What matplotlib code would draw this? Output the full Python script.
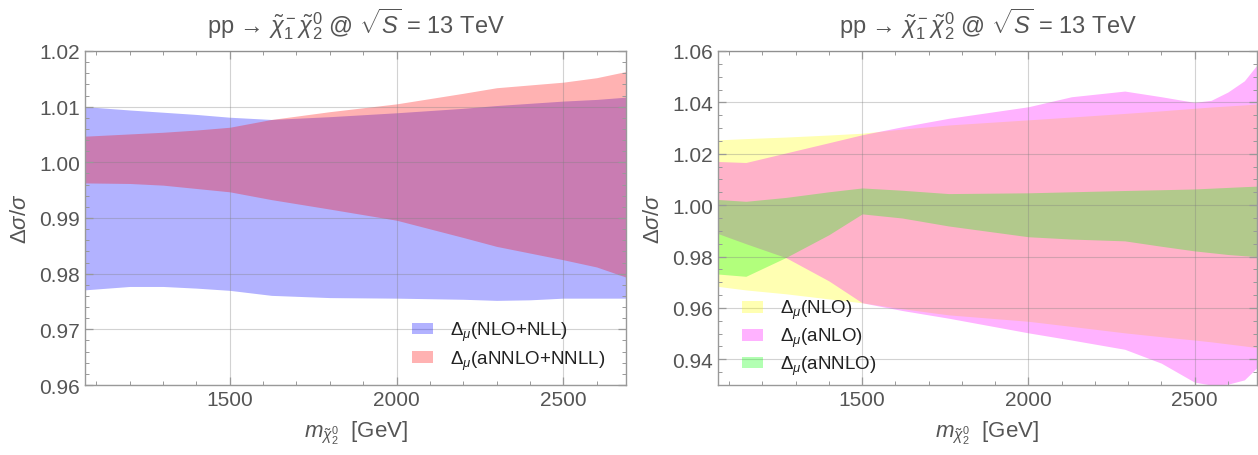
import numpy as np
import matplotlib
matplotlib.use("Agg")
import matplotlib.pyplot as plt
from matplotlib.ticker import MultipleLocator

plt.rcParams['font.family'] = ['Liberation Sans', 'DejaVu Sans']
plt.rcParams['mathtext.fontset'] = 'custom'
plt.rcParams['mathtext.rm'] = 'Liberation Sans'
plt.rcParams['mathtext.it'] = 'Liberation Sans:italic'
plt.rcParams['mathtext.bf'] = 'Liberation Sans:bold'

# left panel: resummed bands
m_left = [1067, 1200, 1300, 1400, 1500, 1625, 1800, 2000, 2200, 2300, 2400, 2500, 2600, 2687]
nll_hi = [1.0100, 1.0094, 1.0090, 1.0086, 1.0081, 1.0077, 1.0082, 1.0089, 1.0097, 1.0102, 1.0106, 1.0110, 1.0113, 1.0117]
nll_lo = [0.9771, 0.9777, 0.9777, 0.9774, 0.9770, 0.9761, 0.9757, 0.9756, 0.9754, 0.9752, 0.9753, 0.9756, 0.9756, 0.9756]
nnll_hi = [1.0047, 1.0051, 1.0054, 1.0058, 1.0063, 1.0077, 1.0091, 1.0105, 1.0124, 1.0134, 1.0139, 1.0144, 1.0152, 1.0163]
nnll_lo = [0.9963, 0.9962, 0.9959, 0.9953, 0.9947, 0.9933, 0.9916, 0.9896, 0.9865, 0.9849, 0.9837, 0.9825, 0.9812, 0.9794]

# right panel: fixed order bands
m_right = [1065, 1150, 1270, 1400, 1500, 1620, 1760, 2000, 2130, 2290, 2400, 2500, 2550, 2600, 2650, 2690]
nlo_hi = [1.0254, 1.0259, 1.0265, 1.0273, 1.0280, 1.0296, 1.0312, 1.0332, 1.0343, 1.0357, 1.0367, 1.0377, 1.0382, 1.0386, 1.0390, 1.0394]
nlo_lo = [0.9684, 0.9670, 0.9655, 0.9635, 0.9620, 0.9597, 0.9573, 0.9548, 0.9528, 0.9503, 0.9488, 0.9475, 0.9468, 0.9460, 0.9452, 0.9445]
anlo_hi = [1.0170, 1.0166, 1.0203, 1.0243, 1.0274, 1.0305, 1.0338, 1.0383, 1.0422, 1.0444, 1.0422, 1.0400, 1.0408, 1.0440, 1.0484, 1.0549]
anlo_lo = [0.9890, 0.9850, 0.9796, 0.9705, 0.9620, 0.9590, 0.9560, 0.9503, 0.9475, 0.9439, 0.9385, 0.9311, 0.9300, 0.9303, 0.9320, 0.9370]
annlo_hi = [1.0022, 1.0015, 1.0030, 1.0052, 1.0067, 1.0058, 1.0045, 1.0048, 1.0052, 1.0057, 1.0060, 1.0063, 1.0066, 1.0069, 1.0072, 1.0074]
annlo_lo = [0.9732, 0.9723, 0.9796, 0.9885, 0.9966, 0.9950, 0.9919, 0.9877, 0.9868, 0.9861, 0.9840, 0.9822, 0.9815, 0.9808, 0.9803, 0.9800]

title = r'pp → $\tilde{\chi}_1^-\tilde{\chi}_2^0$ @ $\sqrt{S}$ = 13 TeV'
xlabel = r'$m_{\tilde{\chi}_2^0}$  [GeV]'
ylabel = r'$\Delta\sigma/\sigma$'
txt = '#555555'
frame = '#999999'


def style(ax, ymin, ymax, ymaj, ymin_step):
    ax.set_xlim(1066, 2688)
    ax.set_ylim(ymin, ymax)
    ax.xaxis.set_major_locator(MultipleLocator(500))
    ax.xaxis.set_minor_locator(MultipleLocator(100))
    ax.yaxis.set_major_locator(MultipleLocator(ymaj))
    ax.yaxis.set_minor_locator(MultipleLocator(ymin_step))
    ax.yaxis.set_major_formatter(plt.FormatStrFormatter('%.2f'))
    ax.tick_params(which='both', direction='in', top=True, right=True,
                   colors=frame, labelcolor=txt, labelsize=15)
    ax.tick_params(which='major', length=6, width=0.9)
    ax.tick_params(which='minor', length=3, width=0.7)
    for s in ax.spines.values():
        s.set_color(frame)
        s.set_linewidth(1.0)
    ax.set_axisbelow(False)
    ax.grid(True, which='major', color='#808080', alpha=0.35, linewidth=0.8)
    ax.set_title(title, color=txt, fontsize=17, pad=13)
    ax.set_xlabel(xlabel, color=txt, fontsize=16, labelpad=7)
    ax.set_ylabel(ylabel, color=txt, fontsize=16, labelpad=6)


fig = plt.figure(figsize=(12.58, 4.56), dpi=100)

ax1 = fig.add_axes([0.0676, 0.1535, 0.4300, 0.7325])
ax1.fill_between(m_left, nll_lo, nll_hi, color=(0, 0, 1), alpha=0.3, lw=0,
                 label=r'$\Delta_\mu$(NLO+NLL)')
ax1.fill_between(m_left, nnll_lo, nnll_hi, color=(1, 0, 0), alpha=0.3, lw=0,
                 label=r'$\Delta_\mu$(aNNLO+NNLL)')
style(ax1, 0.96, 1.02, 0.01, 0.002)
ax1.legend(loc='upper left', bbox_to_anchor=(0.605, 0.195), frameon=False,
           fontsize=13.5, labelcolor='#222222', handlelength=1.1, handleheight=0.6,
           handletextpad=0.9, labelspacing=0.3, borderpad=0, borderaxespad=0)

ax2 = fig.add_axes([0.5707, 0.1535, 0.4285, 0.7325])
ax2.fill_between(m_right, nlo_lo, nlo_hi, color=(1, 1, 0), alpha=0.3, lw=0,
                 label=r'$\Delta_\mu$(NLO)')
ax2.fill_between(m_right, anlo_lo, anlo_hi, color=(1, 0, 1), alpha=0.3, lw=0,
                 label=r'$\Delta_\mu$(aNLO)')
ax2.fill_between(m_right, annlo_lo, annlo_hi, color=(0, 1, 0), alpha=0.3, lw=0,
                 label=r'$\Delta_\mu$(aNNLO)')
style(ax2, 0.93, 1.06, 0.02, 0.005)
ax2.legend(loc='upper left', bbox_to_anchor=(0.045, 0.26), frameon=False,
           fontsize=13.5, labelcolor='#222222', handlelength=1.1, handleheight=0.6,
           handletextpad=0.9, labelspacing=0.25, borderpad=0, borderaxespad=0)

fig.savefig('out.png', dpi=100)
